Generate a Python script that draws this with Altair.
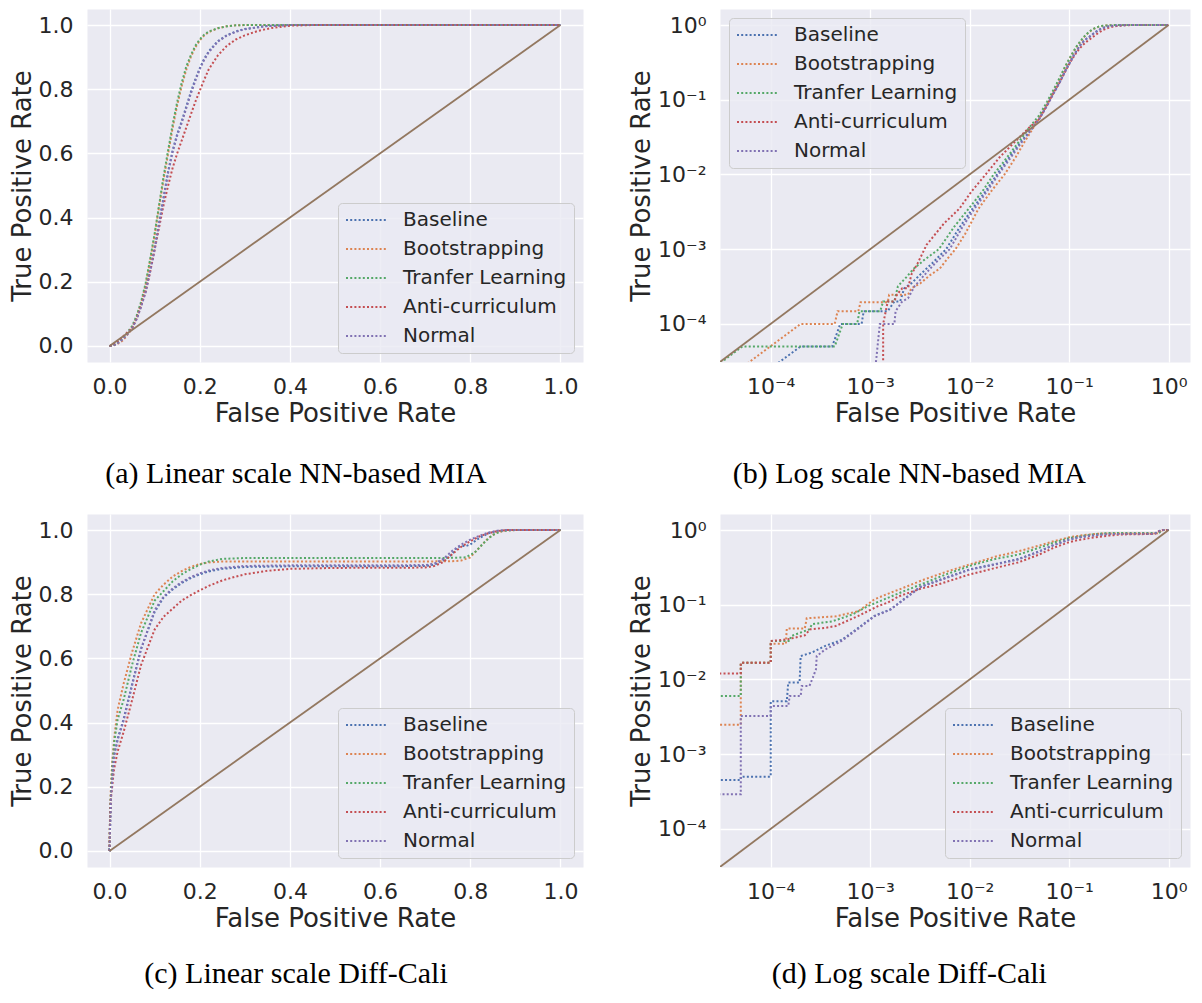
import altair as alt
import pandas as pd

SERIES = ["Baseline", "Bootstrapping", "Tranfer Learning", "Anti-curriculum", "Normal"]
COLORS = ["#4C72B0", "#DD8452", "#55A868", "#C44E52", "#8172B3"]
DIAG_COLOR = "#937860"

LIN_TICKS = [0.0, 0.2, 0.4, 0.6, 0.8, 1.0]
LOG_TICKS = [1e-4, 1e-3, 1e-2, 1e-1, 1.0]
DIAG_LIN = [0.0, 1.0]
DIAG_LOG = [1e-5, 1.0]

CAPTIONS = ["(a) Linear scale NN-based MIA", "(b) Log scale NN-based MIA",
            "(c) Linear scale Diff-Cali", "(d) Log scale Diff-Cali"]

# ---------------- NN-based MIA ROC curves (FPR, TPR) ----------------
nn_baseline_fpr = [0, 2.0e-4, 4.15e-4, 5.0e-4, 8.2e-4, 8.6e-4, 1.5e-3, 1.75e-3, 2.0e-3, 2.2e-3,
                   2.6e-3, 3.2e-3, 4.2e-3, 5.8e-3, 8.0e-3, 0.0107, 0.0145, 0.0188, 0.025, 0.0332,
                   0.04, 0.05, 0.06, 0.07, 0.08, 0.09, 0.1, 0.11, 0.12, 0.13,
                   0.14, 0.15, 0.16, 0.17, 0.18, 0.19, 0.2, 0.21, 0.22, 0.24,
                   0.26, 0.28, 0.3, 0.35, 0.4, 1.0]
nn_baseline_tpr = [0, 5e-5, 5e-5, 1e-4, 1e-4, 1.48e-4, 1.48e-4, 2e-4, 2e-4, 3e-4,
                   3.5e-4, 4.6e-4, 6.5e-4, 1e-3, 2e-3, 3.5e-3, 6e-3, 0.01, 0.017, 0.028,
                   0.038, 0.056, 0.085, 0.125, 0.17, 0.235, 0.305, 0.385, 0.465, 0.545,
                   0.61, 0.66, 0.70, 0.745, 0.79, 0.83, 0.865, 0.895, 0.918, 0.95,
                   0.968, 0.98, 0.988, 0.997, 1.0, 1.0]

nn_boot_fpr = [0, 2e-4, 4.4e-4, 4.7e-4, 7.6e-4, 8e-4, 1.5e-3, 1.55e-3, 2.4e-3, 2.6e-3,
               3.2e-3, 4e-3, 5e-3, 6e-3, 7.2e-3, 9e-3, 0.0123, 0.0165, 0.0224, 0.029,
               0.036, 0.045, 0.05, 0.06, 0.07, 0.08, 0.09, 0.1, 0.11, 0.12,
               0.13, 0.14, 0.15, 0.16, 0.17, 0.18, 0.19, 0.2, 0.21, 0.22,
               0.24, 0.26, 0.28, 0.3, 1.0]
nn_boot_tpr = [0, 1e-4, 1e-4, 1.48e-4, 1.48e-4, 1.95e-4, 1.95e-4, 2.45e-4, 2.45e-4, 3e-4,
               3.5e-4, 4.5e-4, 5.5e-4, 7.5e-4, 1e-3, 1.6e-3, 3.5e-3, 6e-3, 0.01, 0.017,
               0.028, 0.045, 0.058, 0.088, 0.132, 0.19, 0.265, 0.345, 0.435, 0.52,
               0.6, 0.68, 0.75, 0.81, 0.86, 0.9, 0.93, 0.952, 0.968, 0.978,
               0.99, 0.996, 0.999, 1.0, 1.0]

nn_transfer_fpr = [0, 5.2e-5, 4.4e-4, 5.3e-4, 7.4e-4, 7.8e-4, 1.26e-3, 1.35e-3, 1.75e-3, 1.9e-3,
                   2.3e-3, 2.75e-3, 3.5e-3, 4.9e-3, 7e-3, 9.8e-3, 0.0135, 0.0174, 0.023, 0.0316,
                   0.04, 0.05, 0.06, 0.07, 0.08, 0.09, 0.1, 0.11, 0.12, 0.13,
                   0.14, 0.15, 0.16, 0.17, 0.18, 0.19, 0.2, 0.21, 0.22, 0.24,
                   0.26, 0.28, 0.3, 1.0]
nn_transfer_tpr = [0, 5e-5, 5e-5, 1e-4, 1e-4, 1.48e-4, 1.48e-4, 2e-4, 2e-4, 3.2e-4,
                   4.2e-4, 5.5e-4, 7.2e-4, 1e-3, 2e-3, 3.5e-3, 6e-3, 0.01, 0.016, 0.028,
                   0.043, 0.062, 0.094, 0.138, 0.195, 0.27, 0.35, 0.44, 0.53, 0.61,
                   0.69, 0.76, 0.82, 0.87, 0.905, 0.935, 0.955, 0.97, 0.98, 0.99,
                   0.996, 0.999, 1.0, 1.0]

nn_anti_fpr = [0, 1.3e-3, 1.35e-3, 1.5e-3, 1.75e-3, 1.85e-3, 2.1e-3, 2.4e-3, 2.6e-3, 3e-3,
               3.7e-3, 5.5e-3, 7.9e-3, 0.0105, 0.0145, 0.02, 0.029, 0.04, 0.05, 0.06,
               0.07, 0.08, 0.09, 0.1, 0.11, 0.12, 0.13, 0.14, 0.15, 0.16,
               0.17, 0.18, 0.19, 0.2, 0.21, 0.22, 0.24, 0.26, 0.28, 0.3,
               0.33, 0.36, 0.4, 0.45, 1.0]
nn_anti_tpr = [0, 0, 1e-4, 2e-4, 2e-4, 2.45e-4, 3e-4, 3e-4, 4.6e-4, 6.5e-4,
               1.15e-3, 2.2e-3, 3.5e-3, 6e-3, 0.01, 0.017, 0.028, 0.043, 0.055, 0.085,
               0.125, 0.17, 0.23, 0.3, 0.37, 0.44, 0.50, 0.555, 0.6, 0.64,
               0.68, 0.72, 0.76, 0.795, 0.83, 0.862, 0.905, 0.935, 0.955, 0.968,
               0.982, 0.991, 0.998, 1.0, 1.0]

nn_normal_fpr = [0, 1.12e-3, 1.14e-3, 1.25e-3, 1.75e-3, 1.8e-3, 2.1e-3, 2.4e-3, 2.8e-3, 3.5e-3,
                 4.5e-3, 6.3e-3, 8.5e-3, 0.0112, 0.015, 0.0195, 0.026, 0.034, 0.04, 0.05,
                 0.06, 0.07, 0.08, 0.09, 0.1, 0.11, 0.12, 0.13, 0.14, 0.15,
                 0.16, 0.17, 0.18, 0.19, 0.2, 0.21, 0.22, 0.24, 0.26, 0.28,
                 0.3, 0.35, 0.4, 1.0]
nn_normal_tpr = [0, 0, 3e-5, 1e-4, 1e-4, 1.48e-4, 2e-4, 2.2e-4, 3.2e-4, 4.5e-4,
                 6.5e-4, 1e-3, 2e-3, 3.5e-3, 6e-3, 0.01, 0.017, 0.028, 0.037, 0.055,
                 0.083, 0.122, 0.168, 0.232, 0.3, 0.38, 0.46, 0.54, 0.605, 0.655,
                 0.695, 0.74, 0.785, 0.825, 0.862, 0.892, 0.915, 0.948, 0.967, 0.979,
                 0.987, 0.997, 1.0, 1.0]

# ---------------- Diff-Cali ROC curves (FPR, TPR) ----------------
dc_baseline_fpr = [0, 0, 5e-5, 5e-5, 1e-4, 1e-4, 1.45e-4, 1.5e-4, 1.95e-4, 2e-4,
                   2.6e-4, 3.5e-4, 5.2e-4, 7.6e-4, 1.1e-3, 1.6e-3, 3.2e-3, 0.01, 0.018, 0.031,
                   0.05, 0.07, 0.1, 0.12, 0.14, 0.16, 0.18, 0.2, 0.22, 0.25,
                   0.3, 0.4, 0.6, 0.7, 0.72, 0.74, 0.76, 0.77, 0.78, 0.79,
                   0.8, 0.82, 0.84, 0.86, 0.88, 1.0]
dc_baseline_tpr = [0, 4.5e-4, 4.5e-4, 5e-4, 5e-4, 5.1e-3, 5.1e-3, 9.1e-3, 9.1e-3, 0.0206,
                   0.023, 0.028, 0.034, 0.049, 0.071, 0.087, 0.175, 0.298, 0.35, 0.41,
                   0.52, 0.63, 0.745, 0.79, 0.815, 0.835, 0.85, 0.862, 0.871, 0.879,
                   0.885, 0.887, 0.887, 0.888, 0.892, 0.905, 0.925, 0.945, 0.95, 0.95,
                   0.955, 0.975, 0.99, 0.997, 1.0, 1.0]

dc_boot_fpr = [0, 0, 5e-5, 5e-5, 1e-4, 1e-4, 1.42e-4, 1.45e-4, 2.2e-4, 2.3e-4,
               4.5e-4, 7.6e-4, 8.9e-4, 1.1e-3, 1.6e-3, 1.95e-3, 3.55e-3, 6e-3, 0.011, 0.018,
               0.031, 0.05, 0.07, 0.1, 0.12, 0.14, 0.16, 0.18, 0.2, 0.22,
               0.25, 0.3, 0.5, 0.7, 0.76, 0.78, 0.8, 0.82, 0.84, 0.86,
               0.88, 0.9, 1.0]
dc_boot_tpr = [0, 2.48e-3, 2.48e-3, 0.0167, 0.0167, 0.03, 0.03, 0.048, 0.048, 0.066,
               0.07, 0.082, 0.096, 0.118, 0.145, 0.16, 0.22, 0.28, 0.36, 0.44,
               0.52, 0.62, 0.71, 0.8, 0.83, 0.855, 0.872, 0.885, 0.894, 0.899,
               0.902, 0.902, 0.902, 0.902, 0.903, 0.905, 0.915, 0.945, 0.975, 0.993,
               0.999, 1.0, 1.0]

dc_transfer_fpr = [0, 0, 5e-5, 5e-5, 1e-4, 1e-4, 1.55e-4, 1.6e-4, 2.45e-4, 2.6e-4,
                   4.15e-4, 6.6e-4, 9.5e-4, 1.38e-3, 2e-3, 3.55e-3, 6e-3, 0.011, 0.018, 0.031,
                   0.05, 0.07, 0.1, 0.12, 0.14, 0.16, 0.18, 0.2, 0.22, 0.25,
                   0.3, 0.5, 0.75, 0.79, 0.81, 0.83, 0.85, 0.87, 0.9, 1.0]
dc_transfer_tpr = [0, 6e-3, 6e-3, 0.0167, 0.0167, 0.0327, 0.0327, 0.038, 0.047, 0.055,
                   0.06, 0.074, 0.096, 0.118, 0.145, 0.197, 0.26, 0.345, 0.41, 0.47,
                   0.58, 0.68, 0.78, 0.81, 0.84, 0.862, 0.878, 0.892, 0.902, 0.91,
                   0.913, 0.913, 0.913, 0.915, 0.93, 0.96, 0.985, 0.997, 1.0, 1.0]

dc_anti_fpr = [0, 0, 5e-5, 5e-5, 1e-4, 1e-4, 1.48e-4, 2.2e-4, 2.5e-4, 3.5e-4,
               4.5e-4, 7.6e-4, 1.2e-3, 1.5e-3, 1.95e-3, 3.2e-3, 4.7e-3, 0.01, 0.018, 0.031,
               0.05, 0.07, 0.1, 0.12, 0.14, 0.16, 0.18, 0.2, 0.22, 0.25,
               0.28, 0.3, 0.35, 0.4, 0.5, 0.7, 0.72, 0.74, 0.76, 0.78,
               0.8, 0.82, 0.84, 0.86, 0.88, 1.0]
dc_anti_tpr = [0, 0.012, 0.012, 0.0167, 0.0167, 0.0327, 0.0345, 0.039, 0.047, 0.049,
               0.052, 0.071, 0.096, 0.107, 0.13, 0.164, 0.185, 0.255, 0.31, 0.37,
               0.47, 0.58, 0.69, 0.73, 0.755, 0.78, 0.797, 0.812, 0.826, 0.843,
               0.855, 0.862, 0.873, 0.879, 0.882, 0.883, 0.888, 0.9, 0.925, 0.948,
               0.965, 0.98, 0.99, 0.997, 1.0, 1.0]

dc_normal_fpr = [0, 0, 5e-5, 5e-5, 1e-4, 1e-4, 1.5e-4, 1.55e-4, 2e-4, 2.05e-4,
                 2.45e-4, 2.65e-4, 2.85e-4, 2.9e-4, 3.5e-4, 5.2e-4, 7.6e-4, 1.1e-3, 1.6e-3, 3.2e-3,
                 0.01, 0.018, 0.031, 0.05, 0.07, 0.1, 0.12, 0.14, 0.16, 0.18,
                 0.2, 0.22, 0.25, 0.3, 0.4, 0.6, 0.7, 0.72, 0.74, 0.76,
                 0.78, 0.8, 0.82, 0.84, 0.86, 0.88, 1.0]
dc_normal_tpr = [0, 2.9e-4, 2.9e-4, 3.24e-3, 3.24e-3, 4.4e-3, 4.4e-3, 6e-3, 6e-3, 8.2e-3,
                 8.2e-3, 0.0106, 0.0137, 0.0206, 0.025, 0.033, 0.048, 0.07, 0.086, 0.172,
                 0.295, 0.345, 0.405, 0.515, 0.63, 0.75, 0.793, 0.818, 0.838, 0.853,
                 0.865, 0.874, 0.882, 0.888, 0.89, 0.89, 0.891, 0.895, 0.91, 0.935,
                 0.955, 0.97, 0.982, 0.992, 0.998, 1.0, 1.0]

NN_CURVES = [(nn_baseline_fpr, nn_baseline_tpr), (nn_boot_fpr, nn_boot_tpr),
             (nn_transfer_fpr, nn_transfer_tpr), (nn_anti_fpr, nn_anti_tpr),
             (nn_normal_fpr, nn_normal_tpr)]
DC_CURVES = [(dc_baseline_fpr, dc_baseline_tpr), (dc_boot_fpr, dc_boot_tpr),
             (dc_transfer_fpr, dc_transfer_tpr), (dc_anti_fpr, dc_anti_tpr),
             (dc_normal_fpr, dc_normal_tpr)]


def build(curves):
    rows = []
    for name, (fpr, tpr) in zip(SERIES, curves):
        assert len(fpr) == len(tpr), name
        for i, (x, y) in enumerate(zip(fpr, tpr)):
            rows.append({"series": name, "fpr": x, "tpr": y, "i": i})
    return pd.DataFrame(rows)


NN_DF = build(NN_CURVES)
DC_DF = build(DC_CURVES)

LOG_LABEL = ("datum.value > 0.5 ? '10⁰' : datum.value > 0.05 ? '10⁻¹' : "
             "datum.value > 0.005 ? '10⁻²' : datum.value > 0.0005 ? '10⁻³' : '10⁻⁴'")

PLOT_H = 353
LIN_W = 496
LOG_W = 470
LOG_DOMAIN = [10 ** -4.51, 10 ** 0.215]
DOTS = [2.0, 2.2]


def panel(df, log, caption, legend_orient, cap_offset):
    legend = alt.Legend(
        title=None, orient=legend_orient, offset=9,
        symbolType="stroke", symbolSize=1600, symbolStrokeWidth=2,
        symbolDash=DOTS, labelFontSize=20, labelFont="DejaVu Sans",
        labelColor="#262626", padding=7, rowPadding=9, labelOffset=16,
        clipHeight=20, fillColor="rgba(234,234,242,0.8)", strokeColor="#CCCCCC",
        cornerRadius=4, labelLimit=400,
    )
    if log:
        xs = alt.Scale(type="log", domain=LOG_DOMAIN, nice=False)
        ys = alt.Scale(type="log", domain=LOG_DOMAIN, nice=False)
        xa = alt.Axis(values=LOG_TICKS, labelExpr=LOG_LABEL, title="False Positive Rate")
        ya = alt.Axis(values=LOG_TICKS, labelExpr=LOG_LABEL, title="True Positive Rate")
        base = alt.Chart(df).transform_calculate(
            fx="max(datum.fpr, 1e-30)", fy="max(datum.tpr, 1e-30)")
        xf, yf = "fx:Q", "fy:Q"
        diag_vals = DIAG_LOG
        w = LOG_W
    else:
        xs = alt.Scale(domain=[-0.05, 1.05], nice=False, zero=False)
        ys = alt.Scale(domain=[-0.05, 1.05], nice=False, zero=False)
        xa = alt.Axis(values=LIN_TICKS, format=".1f", title="False Positive Rate")
        ya = alt.Axis(values=LIN_TICKS, format=".1f", title="True Positive Rate")
        base = alt.Chart(df)
        xf, yf = "fpr:Q", "tpr:Q"
        diag_vals = DIAG_LIN
        w = LIN_W

    lines = base.mark_line(clip=True, strokeWidth=2, strokeDash=DOTS).encode(
        x=alt.X(xf, scale=xs, axis=xa),
        y=alt.Y(yf, scale=ys, axis=ya),
        color=alt.Color("series:N", scale=alt.Scale(domain=SERIES, range=COLORS),
                        sort=SERIES, legend=legend),
        order=alt.Order("i:Q"),
    )
    diag = alt.Chart(pd.DataFrame({"v": diag_vals})).mark_line(
        clip=True, color=DIAG_COLOR, strokeWidth=1.8
    ).encode(
        x=alt.X("v:Q", scale=xs, axis=xa),
        y=alt.Y("v:Q", scale=ys, axis=ya),
    )
    return alt.layer(lines, diag).properties(
        width=w, height=PLOT_H,
        title=alt.TitleParams(
            text=caption, orient="bottom", anchor="middle", frame="bounds",
            font="Liberation Serif", fontSize=30, fontWeight="normal",
            color="#000000", offset=cap_offset,
        ),
    )


pa = panel(NN_DF, False, CAPTIONS[0], "bottom-right", 33)
pb = panel(NN_DF, True, CAPTIONS[1], "top-left", 33)
pc = panel(DC_DF, False, CAPTIONS[2], "bottom-right", 28)
pd_ = panel(DC_DF, True, CAPTIONS[3], "bottom-right", 28)

chart = alt.concat(
    pa, pb, pc, pd_, columns=2, spacing={"row": 152, "column": 137}, bounds="flush"
).resolve_scale(color="independent").resolve_legend(color="independent").properties(
    padding={"left": 0, "top": 0, "right": 0, "bottom": 0}
).configure_view(
    fill="#EAEAF2", stroke="transparent"
).configure_axis(
    labelFont="DejaVu Sans", labelFontSize=22, labelColor="#262626",
    titleFont="DejaVu Sans", titleFontSize=26, titleFontWeight="normal",
    titleColor="#262626", grid=True, gridColor="#FFFFFF", gridWidth=1.3,
    gridOpacity=1, domain=False, ticks=False, labelPadding=14, titlePadding=3,
    labelFlush=False,
)

chart.save("out.html", embed_options={"renderer": "svg", "actions": False})
